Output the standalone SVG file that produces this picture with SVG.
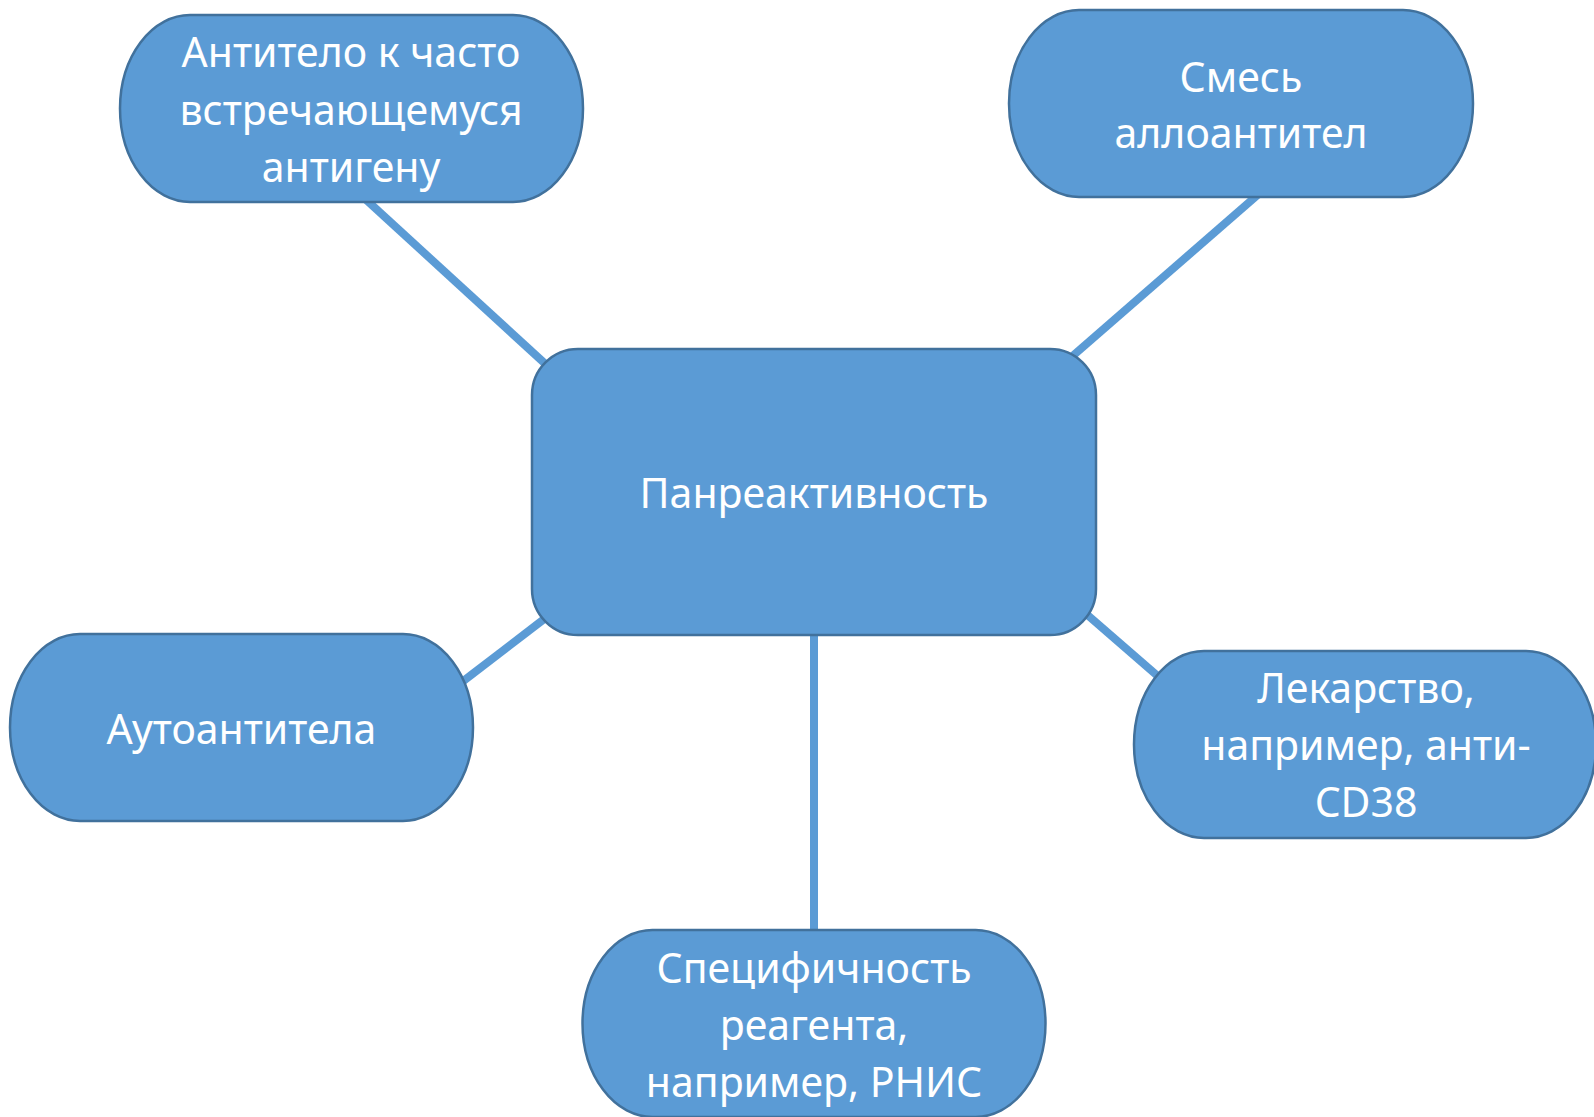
<svg xmlns="http://www.w3.org/2000/svg" width="1594" height="1117" viewBox="0 0 1594 1117">
<style>
.n{fill:#5B9BD5;stroke:#41719C;stroke-width:2.5}
.t{font-family:"Noto Sans","Open Sans","Liberation Sans",sans-serif;font-size:41px;fill:#FFFFFF;text-anchor:middle}
.c{stroke:#5B9BD5;stroke-width:8;fill:none}
</style>
<rect width="1594" height="1117" fill="#FFFFFF"/>
<g id="connectors">
<line class="c" x1="362" y1="196" x2="552" y2="370"/>
<line class="c" x1="1261" y1="192" x2="1068" y2="360"/>
<line class="c" x1="462" y1="682" x2="552" y2="613"/>
<line class="c" x1="1084" y1="612" x2="1160" y2="678"/>
<line class="c" x1="814" y1="630" x2="814" y2="932"/>
</g>
<g id="node-antibody-common">
<rect class="n" x="120" y="15" width="463" height="187" rx="70" ry="93.5"/>
<text class="t" x="351" y="67">Антитело к часто</text>
<text class="t" x="351" y="125">встречающемуся</text>
<text class="t" x="351" y="182">антигену</text>
</g>
<g id="node-alloantibodies">
<rect class="n" x="1009" y="10" width="464" height="187" rx="70" ry="93.5"/>
<text class="t" x="1241" y="92">Смесь</text>
<text class="t" x="1241" y="148">аллоантител</text>
</g>
<g id="node-panreactivity">
<rect class="n" x="532" y="349" width="564" height="286" rx="46"/>
<text class="t" x="814" y="508">Панреактивность</text>
</g>
<g id="node-autoantibodies">
<rect class="n" x="10" y="634" width="463" height="187" rx="70" ry="93.5"/>
<text class="t" x="241.5" y="744">Аутоантитела</text>
</g>
<g id="node-drug">
<rect class="n" x="1134" y="651" width="462" height="187" rx="70" ry="93.5"/>
<text class="t" x="1366" y="703">Лекарство,</text>
<text class="t" x="1366" y="760">например, анти-</text>
<text class="t" x="1366" y="817">CD38</text>
</g>
<g id="node-reagent">
<rect class="n" x="582.5" y="930" width="463" height="187" rx="70" ry="93.5"/>
<text class="t" x="814" y="983">Специфичность</text>
<text class="t" x="814" y="1040">реагента,</text>
<text class="t" x="814" y="1097">например, РНИС</text>
</g>
</svg>
